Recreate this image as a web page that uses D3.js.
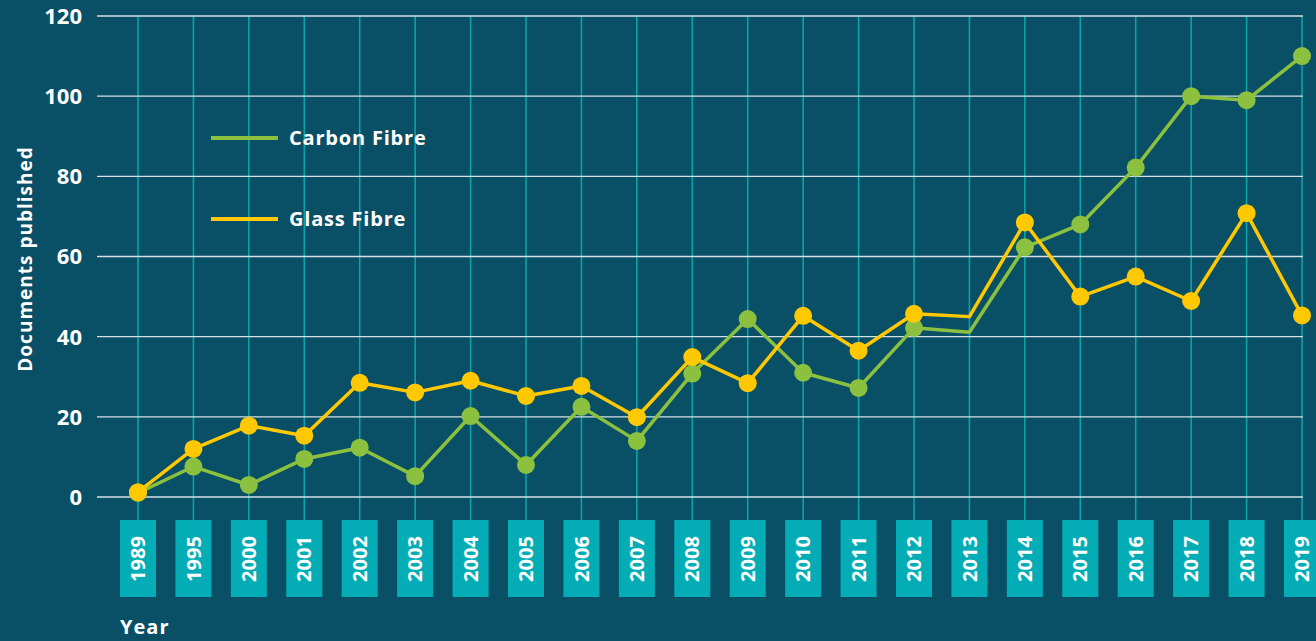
<!DOCTYPE html>
<html>
<head>
<meta charset="utf-8">
<script src="https://cdn.jsdelivr.net/npm/d3@7"></script>
<style>
  html, body { margin: 0; padding: 0; background: #094f66; }
  svg { display: block; font-family: "Open Sans", "Noto Sans", sans-serif; }
</style>
</head>
<body>
<div id="chart"></div>
<script>
const years = ["1989", "1995", "2000", "2001", "2002", "2003", "2004", "2005", "2006", "2007", "2008",
    "2009", "2010", "2011", "2012", "2013", "2014", "2015", "2016", "2017", "2018", "2019"];
const carbonFibre = [1, 7.6, 3, 9.5, 12.3, 5.2, 20.2, 8, 22.5, 14, 30.8, 44.4, 31, 27.2, 42.2, 41.1, 62.3, 68, 82.2, 100, 99, 110];
const glassFibre = [1.2, 12, 17.8, 15.3, 28.5, 26.1, 29, 25.2, 27.7, 19.9, 34.9, 28.4, 45.2, 36.5, 45.7, 45, 68.5, 50, 55, 48.9, 70.8, 45.3];
const yTicks = [0, 20, 40, 60, 80, 100, 120];
// years drawn without a dot in the original
const noMarkerYears = ["2013"];

const series = [
    { name: "Carbon Fibre", values: carbonFibre, color: "#8cc13f" },
    { name: "Glass Fibre", values: glassFibre, color: "#ffc800" }
];

const width = 1316;
const height = 641;

const svg = d3.select("#chart")
    .append("svg")
    .attr("width", width)
    .attr("height", height);

svg.append("rect")
    .attr("width", width)
    .attr("height", height)
    .attr("fill", "#094f66");

const x = d3.scalePoint()
    .domain(years)
    .range([138, 1302]);

const y = d3.scaleLinear()
    .domain([0, 120])
    .range([497, 16]);

// vertical grid, drops down to the year boxes
svg.append("g")
    .selectAll("line")
    .data(years)
    .enter()
    .append("line")
    .attr("x1", d => x(d))
    .attr("x2", d => x(d))
    .attr("y1", y(120))
    .attr("y2", 520)
    .attr("stroke", "#0aa3ab")
    .attr("stroke-width", 1.6);

// horizontal grid
svg.append("g")
    .selectAll("line")
    .data(yTicks)
    .enter()
    .append("line")
    .attr("x1", 97)
    .attr("x2", 1303)
    .attr("y1", d => y(d))
    .attr("y2", d => y(d))
    .attr("stroke", "#d5e0e4")
    .attr("stroke-width", 1.3);

// y tick labels
svg.append("g")
    .selectAll("text")
    .data(yTicks)
    .enter()
    .append("text")
    .attr("x", 82)
    .attr("y", d => y(d))
    .attr("dy", "0.36em")
    .attr("text-anchor", "end")
    .attr("fill", "#fff")
    .style("font-size", "22px")
    .style("font-weight", "700")
    .text(d => d);

svg.append("text")
    .attr("transform", "translate(32,259) rotate(-90)")
    .attr("text-anchor", "middle")
    .attr("fill", "#fff")
    .style("font-size", "19px")
    .style("font-weight", "700")
    .style("letter-spacing", "1px")
    .text("Documents published");

// year boxes
const yearBox = svg.append("g")
    .selectAll("g")
    .data(years)
    .enter()
    .append("g")
    .attr("transform", d => `translate(${x(d)},0)`);

yearBox.append("rect")
    .attr("x", -18)
    .attr("y", 520)
    .attr("width", 36)
    .attr("height", 77)
    .attr("fill", "#04adb6");

yearBox.append("text")
    .attr("transform", "translate(0,559) rotate(-90)")
    .attr("text-anchor", "middle")
    .attr("dy", "0.36em")
    .attr("fill", "#fff")
    .style("font-size", "20px")
    .style("font-weight", "700")
    .text(d => d);

svg.append("text")
    .attr("x", 120)
    .attr("y", 634)
    .attr("fill", "#fff")
    .style("font-size", "20px")
    .style("font-weight", "700")
    .style("letter-spacing", "1px")
    .text("Year");

// series
const line = d3.line()
    .x((d, i) => x(years[i]))
    .y(d => y(d));

series.forEach(s => {
    svg.append("path")
        .datum(s.values)
        .attr("d", line)
        .attr("fill", "none")
        .attr("stroke", s.color)
        .attr("stroke-width", 3.5)
        .attr("stroke-linejoin", "round");

    svg.append("g")
        .selectAll("circle")
        .data(s.values.map((v, i) => ({ year: years[i], value: v }))
            .filter(d => !noMarkerYears.includes(d.year)))
        .enter()
        .append("circle")
        .attr("cx", d => x(d.year))
        .attr("cy", d => y(d.value))
        .attr("r", 9)
        .attr("fill", s.color);
});

// legend
const legend = svg.append("g")
    .selectAll("g")
    .data(series)
    .enter()
    .append("g")
    .attr("transform", (d, i) => `translate(211,${138 + i * 81})`);

legend.append("line")
    .attr("x1", 0)
    .attr("x2", 67)
    .attr("stroke", d => d.color)
    .attr("stroke-width", 4);

legend.append("text")
    .attr("x", 78)
    .attr("dy", "0.36em")
    .attr("fill", "#fff")
    .style("font-size", "20px")
    .style("font-weight", "700")
    .style("letter-spacing", "0.8px")
    .text(d => d.name);
</script>
</body>
</html>
